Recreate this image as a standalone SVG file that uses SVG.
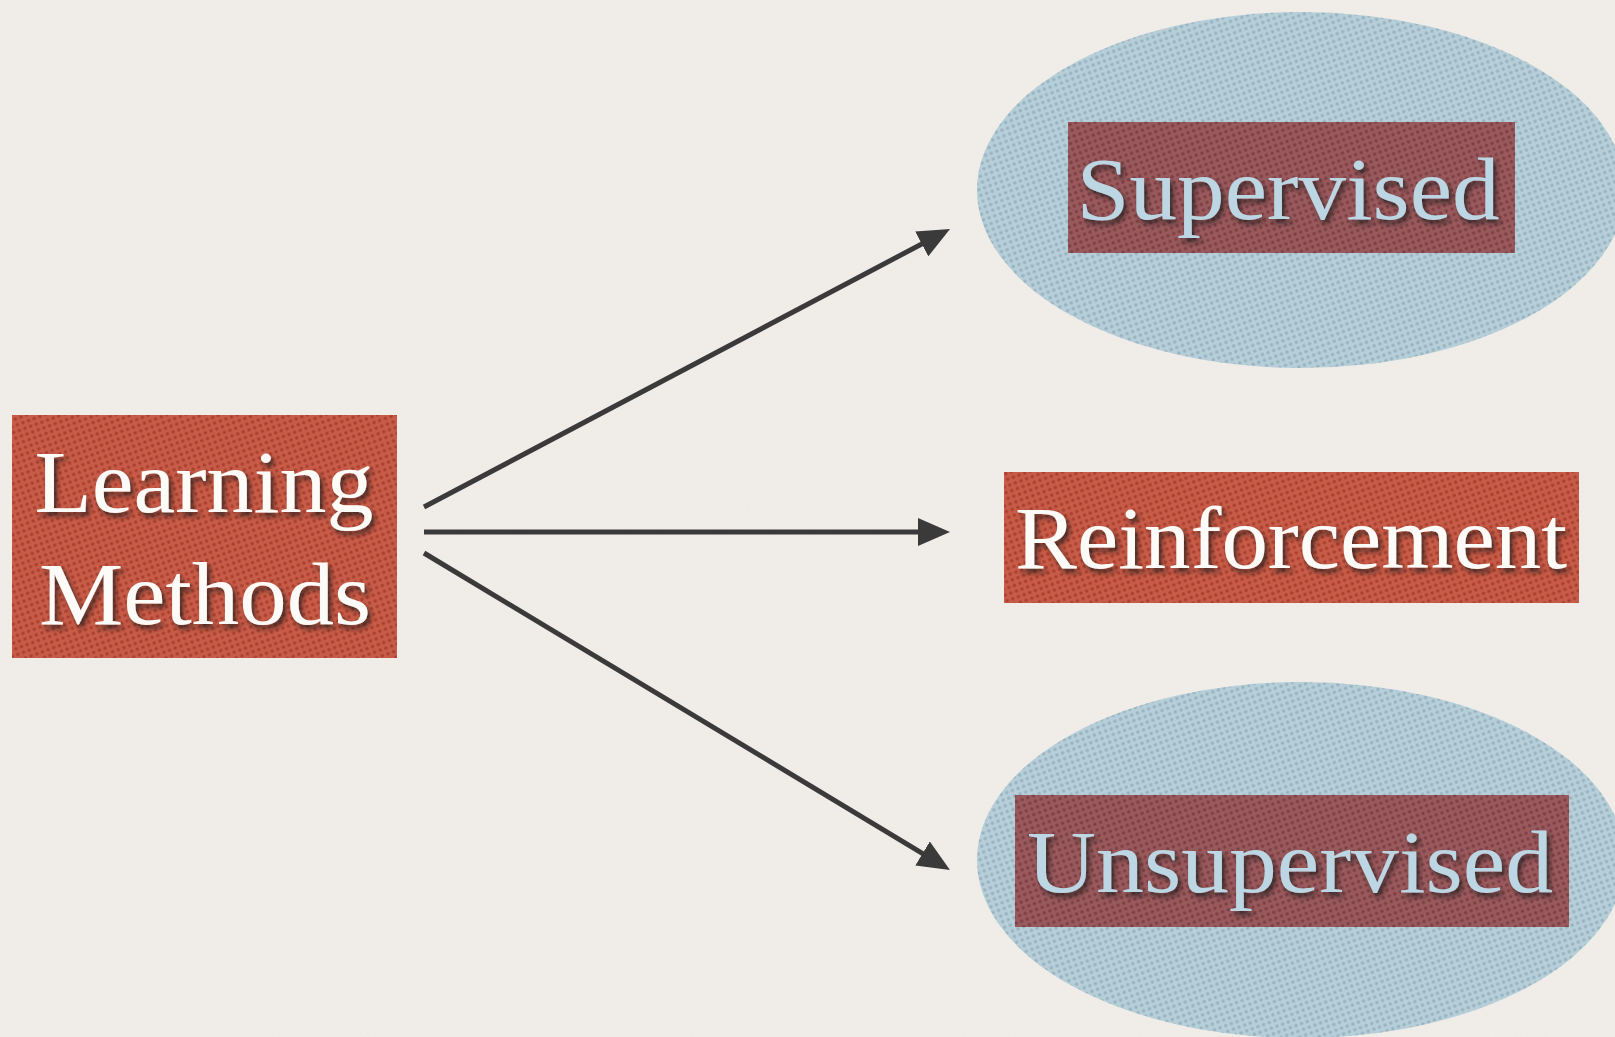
<svg xmlns="http://www.w3.org/2000/svg" width="1615" height="1037" viewBox="0 0 1615 1037">
<defs>
<style>
.lbl{font-family:"Liberation Serif","Times New Roman",serif;font-size:88px;text-anchor:middle;filter:url(#tshadow)}
.white{fill:#fdfbf7}
.blue{fill:#bcd7e3}
.conn{stroke:#3a3a3a;stroke-width:5;fill:none;marker-end:url(#arrow)}
</style>
<pattern id="redDots" width="6" height="6" patternUnits="userSpaceOnUse" patternTransform="rotate(-20)">
<rect width="6" height="6" fill="#c85c48"/>
<circle cx="3" cy="3" r="1.8" fill="#a9402f"/>
</pattern>
<pattern id="blueDots" width="6" height="6" patternUnits="userSpaceOnUse" patternTransform="rotate(-20)">
<rect width="6" height="6" fill="#b6cfd9"/>
<circle cx="3" cy="3" r="1.8" fill="#98b3c0"/>
</pattern>
<pattern id="mauveDots" width="6" height="6" patternUnits="userSpaceOnUse" patternTransform="rotate(-20)">
<rect width="6" height="6" fill="#9a5a5d"/>
<circle cx="3" cy="3" r="1.8" fill="#7b4045"/>
</pattern>
<filter id="tshadow" x="-10%" y="-20%" width="120%" height="150%">
<feDropShadow dx="3" dy="4" stdDeviation="2.5" flood-color="#1a1a1a" flood-opacity="0.75"/>
</filter>
<filter id="paper" x="0" y="0" width="100%" height="100%">
<feTurbulence type="fractalNoise" baseFrequency="0.9" numOctaves="2" seed="3"/>
<feColorMatrix type="matrix" values="0 0 0 0 0.45  0 0 0 0 0.43  0 0 0 0 0.40  0 0 0 0.07 0"/>
</filter>
<marker id="arrow" markerUnits="userSpaceOnUse" markerWidth="32" markerHeight="28" refX="22" refY="14" orient="auto">
<path d="M0,0 L32,14 L0,28 Z" fill="#3a3a3a"/>
</marker>
</defs>
<rect width="1615" height="1037" fill="#f2efea"/>
<rect width="1615" height="1037" filter="url(#paper)"/>

<g id="connectors">
<line class="conn" x1="424" y1="507" x2="941.2" y2="233.7"/>
<line class="conn" x1="424" y1="532" x2="940" y2="532"/>
<line class="conn" x1="424" y1="553" x2="941.4" y2="864.8"/>
</g>

<g id="node-learning-methods">
<rect x="12" y="415" width="385" height="243" fill="url(#redDots)"/>
<text class="lbl white" x="204" y="512" textLength="339" lengthAdjust="spacingAndGlyphs">Learning</text>
<text class="lbl white" x="205" y="624" textLength="332" lengthAdjust="spacingAndGlyphs">Methods</text>
</g>

<g id="node-supervised">
<ellipse cx="1301" cy="190" rx="324" ry="178" fill="url(#blueDots)"/>
<rect x="1068" y="122" width="447" height="131" fill="url(#mauveDots)"/>
<text class="lbl blue" x="1288" y="219" textLength="423" lengthAdjust="spacingAndGlyphs">Supervised</text>
</g>

<g id="node-reinforcement">
<rect x="1004" y="472" width="575" height="131" fill="url(#redDots)"/>
<text class="lbl white" x="1291" y="568" textLength="552" lengthAdjust="spacingAndGlyphs">Reinforcement</text>
</g>

<g id="node-unsupervised">
<ellipse cx="1301" cy="860" rx="324" ry="178" fill="url(#blueDots)"/>
<rect x="1015" y="795" width="554" height="132" fill="url(#mauveDots)"/>
<text class="lbl blue" x="1290" y="892" textLength="526" lengthAdjust="spacingAndGlyphs">Unsupervised</text>
</g>
</svg>
